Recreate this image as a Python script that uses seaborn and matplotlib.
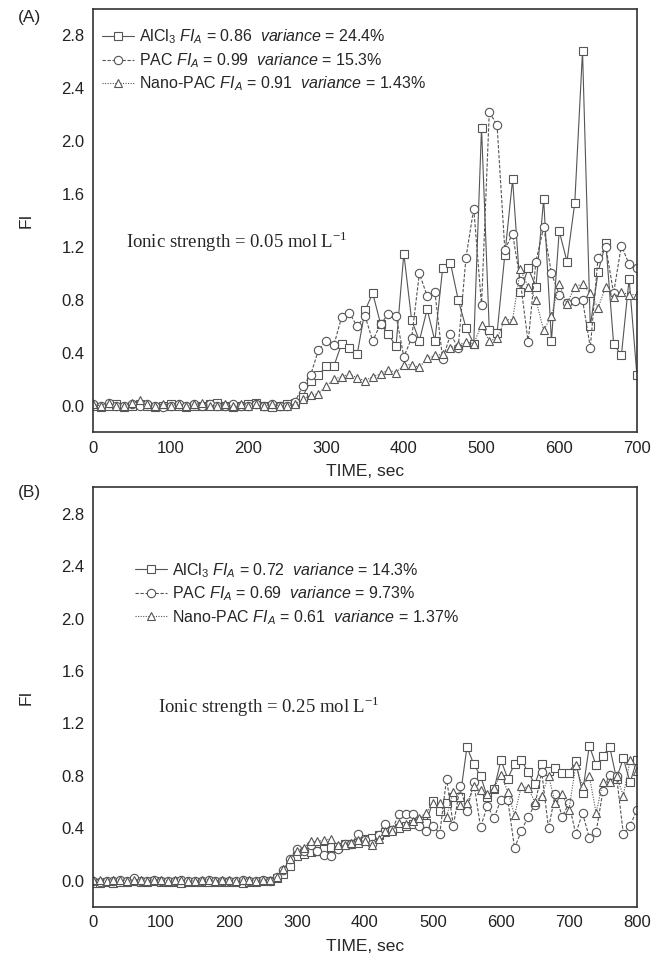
import numpy as np
import pandas as pd
import matplotlib
matplotlib.use("Agg")
import matplotlib.pyplot as plt
from matplotlib.ticker import MultipleLocator
import seaborn as sns

# ---------------- data ----------------
time_a = np.arange(0, 701, 10)
time_b = np.arange(0, 801, 10)

# panel A, ionic strength 0.05 mol/L
alcl3_a = [0.00, -0.01, 0.00, 0.01, -0.01, 0.00, 0.01, 0.00, -0.01, 0.00, 0.01, 0.00, -0.01,
           0.00, 0.00, 0.01, 0.02, 0.00, -0.01, 0.00, 0.01, 0.02, 0.00, -0.01, 0.00, 0.01,
           0.02, 0.07, 0.19, 0.23, 0.30, 0.30, 0.47, 0.44, 0.39, 0.72, 0.85, 0.62, 0.54, 0.45,
           1.15, 0.65, 0.49, 0.73, 0.49, 1.04, 1.08, 0.80, 0.59, 0.47, 2.10, 0.57, 0.55, 1.14,
           1.71, 0.86, 1.04, 0.90, 1.56, 0.49, 1.32, 1.09, 1.53, 2.68, 0.60, 1.01, 1.23, 0.47,
           0.38, 0.96, 0.23]
pac_a = [0.01, 0.00, 0.02, 0.00, 0.00, 0.01, 0.00, 0.01, 0.00, -0.01, 0.00, 0.01, 0.00,
         0.01, 0.00, 0.01, 0.00, 0.00, 0.01, 0.00, 0.00, 0.01, 0.00, 0.01, 0.00, 0.00,
         0.03, 0.15, 0.23, 0.42, 0.49, 0.46, 0.67, 0.70, 0.60, 0.68, 0.49, 0.62, 0.69, 0.68,
         0.37, 0.51, 1.00, 0.83, 0.86, 0.35, 0.54, 0.44, 1.12, 1.49, 0.76, 2.22, 2.12, 1.18,
         1.30, 0.94, 0.48, 1.09, 1.35, 1.00, 0.84, 0.78, 0.79, 0.80, 0.44, 1.12, 1.20, 0.85,
         1.21, 1.07, 1.04]
nano_a = [0.01, 0.00, 0.02, 0.00, 0.00, 0.02, 0.04, 0.01, 0.00, 0.01, 0.00, 0.01, 0.00,
          0.01, 0.02, 0.00, 0.00, 0.01, 0.00, 0.01, 0.00, 0.01, 0.00, 0.01, 0.00, 0.00,
          0.01, 0.05, 0.08, 0.09, 0.15, 0.20, 0.22, 0.24, 0.21, 0.19, 0.22, 0.24, 0.27, 0.25,
          0.31, 0.31, 0.29, 0.36, 0.38, 0.39, 0.44, 0.46, 0.48, 0.47, 0.61, 0.49, 0.51, 0.65,
          0.65, 1.03, 0.90, 0.80, 0.57, 0.68, 0.92, 0.77, 0.90, 0.92, 0.85, 0.74, 0.90, 0.82,
          0.86, 0.84, 0.84]

# panel B, ionic strength 0.25 mol/L
alcl3_b = [-0.02, -0.02, -0.01, -0.02, -0.01, -0.01, 0.00, -0.01, -0.01, 0.00, -0.01, -0.01,
           -0.01, -0.02, -0.01, -0.01, -0.01, -0.01, -0.01, -0.01, -0.01, -0.01, -0.02, -0.01,
           -0.01, 0.00, 0.00,
           0.02, 0.05, 0.11, 0.19, 0.205, 0.22, 0.23, 0.245, 0.26, 0.26, 0.28, 0.28, 0.29, 0.32,
           0.33, 0.35, 0.37, 0.39, 0.40, 0.415, 0.43, 0.455, 0.44, 0.61, 0.53, 0.59, 0.64, 0.64,
           1.02, 0.89, 0.80, 0.64, 0.70, 0.92, 0.78, 0.89, 0.92, 0.83, 0.735, 0.89, 0.84, 0.86,
           0.825, 0.825, 0.91, 0.67, 1.03, 0.88, 0.955, 1.02, 0.78, 0.935, 0.75, 0.92]
pac_b = [0.00, -0.01, 0.00, 0.00, 0.01, 0.00, 0.02, 0.00, 0.00, 0.01, 0.00, 0.00, 0.00,
         0.01, 0.00, 0.00, 0.00, 0.01, 0.00, 0.00, 0.00, 0.00, 0.01, 0.00, 0.00, 0.01, 0.00,
         0.03, 0.08, 0.17, 0.245, 0.23, 0.27, 0.23, 0.20, 0.19, 0.24, 0.28, 0.28, 0.36, 0.31,
         0.28, 0.35, 0.43, 0.39, 0.51, 0.51, 0.51, 0.42, 0.38, 0.42, 0.36, 0.78, 0.42, 0.72,
         0.53, 0.75, 0.41, 0.57, 0.48, 0.62, 0.62, 0.25, 0.38, 0.49, 0.58, 0.83, 0.40, 0.665,
         0.49, 0.59, 0.36, 0.515, 0.33, 0.37, 0.685, 0.81, 0.80, 0.36, 0.42, 0.54]
nano_b = [0.01, 0.01, 0.00, 0.01, 0.01, 0.00, 0.01, 0.01, 0.00, 0.01, 0.01, 0.00, 0.01,
          0.01, 0.00, 0.00, 0.01, 0.01, 0.00, 0.01, 0.01, 0.00, 0.01, 0.01, 0.00, 0.01, 0.01,
          0.03, 0.09, 0.17, 0.23, 0.25, 0.30, 0.30, 0.31, 0.32, 0.27, 0.27, 0.29, 0.31, 0.30,
          0.27, 0.32, 0.38, 0.38, 0.44, 0.43, 0.455, 0.48, 0.52, 0.59, 0.59, 0.49, 0.68, 0.58,
          0.59, 0.72, 0.69, 0.66, 0.71, 0.81, 0.68, 0.50, 0.72, 0.71, 0.60, 0.65, 0.80, 0.59,
          0.66, 0.54, 0.88, 0.72, 0.80, 0.52, 0.75, 0.75, 0.80, 0.65, 0.92, 0.84]

labels_a = [r"AlCl$_\mathregular{3}$ $FI_A$ = 0.86  $variance$ = 24.4%",
            r"PAC $FI_A$ = 0.99  $variance$ = 15.3%",
            r"Nano-PAC $FI_A$ = 0.91  $variance$ = 1.43%"]
labels_b = [r"AlCl$_\mathregular{3}$ $FI_A$ = 0.72  $variance$ = 14.3%",
            r"PAC $FI_A$ = 0.69  $variance$ = 9.73%",
            r"Nano-PAC $FI_A$ = 0.61  $variance$ = 1.37%"]

# ---------------- style ----------------
sns.set_style("white")
plt.rcParams['font.family'] = ['Liberation Sans', 'DejaVu Sans']
plt.rcParams['mathtext.fontset'] = 'custom'
plt.rcParams['mathtext.rm'] = 'Liberation Sans'
plt.rcParams['mathtext.it'] = 'Liberation Sans:italic'

grey = '#555555'
styles = [('s', '-'), ('o', (0, (3, 1.5))), ('^', (0, (1, 1.3)))]

fig = plt.figure(figsize=(6.6, 9.67), dpi=100)
ax_a = fig.add_axes([0.141, 0.553, 0.824, 0.438])
ax_b = fig.add_axes([0.141, 0.062, 0.824, 0.434])


def draw_panel(ax, t, series, labels, xmax, ionic, leg_anchor, txt_pos):
    for y, lab, (mk, ls) in zip(series, labels, styles):
        sns.lineplot(x=t, y=y, ax=ax, color=grey, linestyle=ls, linewidth=0.8,
                     marker=mk, markersize=6, markerfacecolor='white',
                     markeredgecolor=grey, markeredgewidth=0.8, label=lab)
    ax.set_xlim(0, xmax)
    ax.set_ylim(-0.2, 3.0)
    ax.xaxis.set_major_locator(MultipleLocator(100))
    ax.xaxis.set_minor_locator(MultipleLocator(50))
    ax.yaxis.set_major_locator(MultipleLocator(0.4))
    ax.yaxis.set_minor_locator(MultipleLocator(0.2))
    ax.yaxis.set_major_formatter(lambda v, p: f"{v:.1f}")
    ax.tick_params(which='both', direction='in', top=False, right=False,
                   labelsize=12, colors='#222222')
    ax.tick_params(which='major', length=5, width=1, pad=6)
    ax.tick_params(which='minor', length=3, width=1)
    for sp in ax.spines.values():
        sp.set_linewidth(1.2)
        sp.set_color('#333333')
    ax.set_xlabel("TIME, sec", fontsize=12.5, labelpad=6)
    ax.set_ylabel("FI", fontsize=12.5, labelpad=20)
    ax.legend(loc='upper left', bbox_to_anchor=leg_anchor, frameon=False,
              fontsize=11.5, handlelength=2.0, numpoints=1, handletextpad=0.3,
              labelspacing=0.3, borderaxespad=0.0)
    ax.text(txt_pos[0], txt_pos[1], ionic, transform=ax.transAxes,
            family='Liberation Serif', fontsize=13.5, va='center', ha='left')


draw_panel(ax_a, time_a, [alcl3_a, pac_a, nano_a], labels_a, 700,
           r"Ionic strength = 0.05 mol L$^{\mathregular{-1}}$", (0.005, 0.97), (0.06, 0.45))
draw_panel(ax_b, time_b, [alcl3_b, pac_b, nano_b], labels_b, 800,
           r"Ionic strength = 0.25 mol L$^{\mathregular{-1}}$", (0.065, 0.84), (0.12, 0.476))

fig.text(0.027, 0.982, "(A)", fontsize=12.5, va='center')
fig.text(0.027, 0.491, "(B)", fontsize=12.5, va='center')

fig.savefig("out.png", dpi=100)
